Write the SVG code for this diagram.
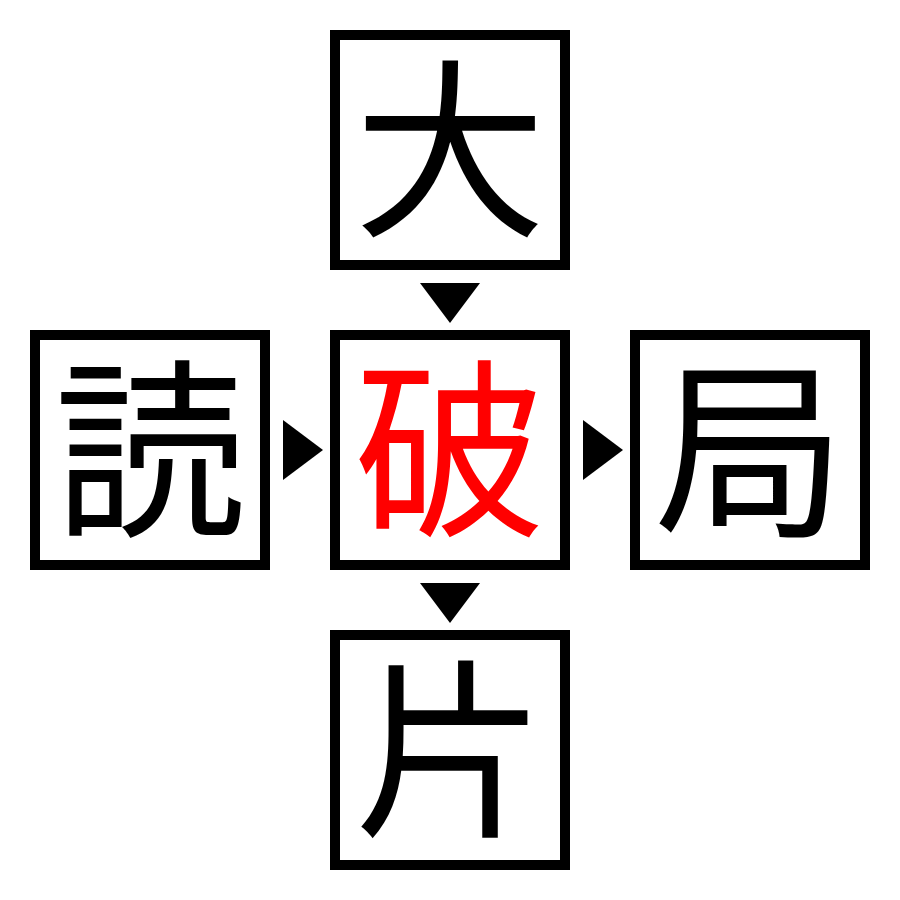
<svg xmlns="http://www.w3.org/2000/svg" width="900" height="900" viewBox="0 0 900 900">
<style>
.box{fill:#fff;stroke:#000;stroke-width:10}
.ch{font-family:"Noto Sans CJK JP","Noto Sans CJK SC",sans-serif;font-size:192px;text-anchor:middle}
.arr{fill:#000}
</style>
<rect width="900" height="900" fill="#fff"/>
<g id="connectors">
<polygon class="arr" points="420,283 480,283 450,323"/>
<polygon class="arr" points="283,420 283,480 323,450"/>
<polygon class="arr" points="583,420 583,480 623,450"/>
<polygon class="arr" points="420,583 480,583 450,623"/>
</g>
<g id="node-top"><rect class="box" x="335" y="35" width="230" height="230"/><text class="ch" x="450" y="222">大</text></g>
<g id="node-left"><rect class="box" x="35" y="335" width="230" height="230"/><text class="ch" x="150" y="522">読</text></g>
<g id="node-center"><rect class="box" x="335" y="335" width="230" height="230"/><text class="ch" x="450" y="522" fill="#f00">破</text></g>
<g id="node-right"><rect class="box" x="635" y="335" width="230" height="230"/><text class="ch" x="750" y="522">局</text></g>
<g id="node-bottom"><rect class="box" x="335" y="635" width="230" height="230"/><text class="ch" x="450" y="822">片</text></g>
</svg>
